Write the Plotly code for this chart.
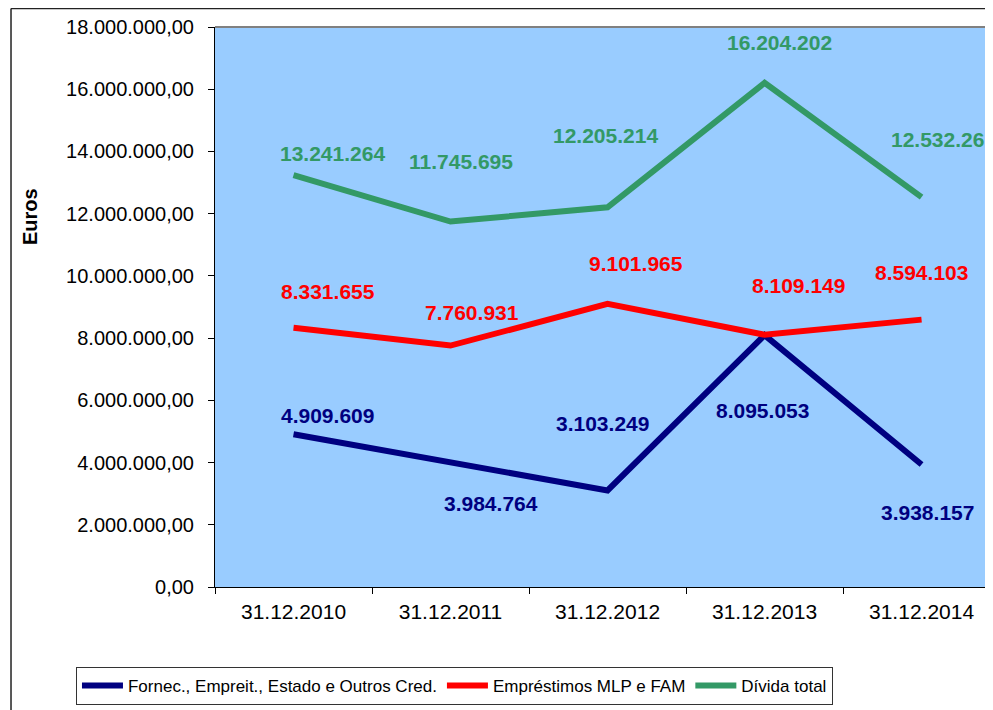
import plotly.graph_objects as go

# ---- data ----
categories = ["31.12.2010", "31.12.2011", "31.12.2012", "31.12.2013", "31.12.2014"]
fornec = [4909609, 3984764, 3103249, 8095053, 3938157]
emprestimos = [8331655, 7760931, 9101965, 8109149, 8594103]
divida = [13241264, 11745695, 12205214, 16204202, 12532261]

series_names = ["Fornec., Empreit., Estado e Outros Cred.", "Empréstimos MLP e FAM", "Dívida total"]
y_ticks = [0, 2000000, 4000000, 6000000, 8000000, 10000000, 12000000, 14000000, 16000000, 18000000]

# ---- styling ----
colors = ["#000080", "#FF0000", "#339966"]
# label offsets (pixels, x then y upward) for each series / point
label_offsets = [
    [(34, 19), (40, -40), (-5, 67), (-2, -75), (6, -48)],
    [(34, 36), (21, 33), (28, 40), (34, 49), (0, 47)],
    [(39, 22), (10, 60), (-2, 72), (15, 40), (22, 58)],
]
FONT = "Arial, Liberation Sans, sans-serif"

fig = go.Figure()
all_series = [fornec, emprestimos, divida]
for name, vals, col in zip(series_names, all_series, colors):
    fig.add_trace(go.Scatter(
        x=categories, y=vals, mode="lines", name=name,
        line=dict(color=col, width=6),
    ))

annotations = []
for vals, col, offs in zip(all_series, colors, label_offsets):
    for cat, v, (dx, dy) in zip(categories, vals, offs):
        annotations.append(dict(
            x=cat, y=v, xref="x", yref="y", showarrow=False,
            text=f"{v:,}".replace(",", "."),
            font=dict(family=FONT, size=21, color=col, weight="bold"),
            xshift=dx, yshift=dy, xanchor="center", yanchor="middle",
        ))

# y-axis title
annotations.append(dict(
    x=-0.2378, y=0.6625, xref="paper", yref="paper", showarrow=False,
    text="<b>Euros</b>", textangle=-90,
    font=dict(family=FONT, size=20, color="black"),
    xanchor="center", yanchor="middle",
))

shapes = [
    # plot-area top border (grey)
    dict(type="line", xref="paper", yref="paper", x0=0, x1=1, y0=1, y1=1,
         line=dict(color="#808080", width=2)),
    # outer chart frame (left and top)
    dict(type="line", xref="paper", yref="paper", x0=-0.2622, x1=-0.2622, y0=1.033, y1=-0.3,
         line=dict(color="#222222", width=1.5)),
    dict(type="line", xref="paper", yref="paper", x0=-0.2622, x1=1.05, y0=1.033, y1=1.033,
         line=dict(color="#222222", width=1.5)),
]

fig.update_layout(
    width=985, height=702,
    margin=dict(l=207, r=0, t=19, b=123, pad=0),
    paper_bgcolor="white",
    plot_bgcolor="#99CCFF",
    separators=",.",
    font=dict(family=FONT, color="black"),
    showlegend=True,
    legend=dict(
        orientation="h", x=-0.1787, xanchor="left", y=-0.1429, yanchor="top",
        bgcolor="white", bordercolor="#333333", borderwidth=1,
        font=dict(family=FONT, size=17, color="black"),
        itemwidth=41, tracegroupgap=0,
    ),
    xaxis=dict(
        type="category", range=[-0.5, 4.455],
        tickson="boundaries", ticks="outside", ticklen=6, tickcolor="black",
        showline=True, linecolor="black", linewidth=1,
        showgrid=False, zeroline=False,
        tickfont=dict(family=FONT, size=21, color="black"),
        ticklabelstandoff=6,
        fixedrange=True,
    ),
    yaxis=dict(
        range=[0, 18000000], tickvals=y_ticks, tickformat=",.2f",
        ticks="outside", ticklen=6, tickcolor="black",
        showline=True, linecolor="black", linewidth=1,
        showgrid=False, zeroline=False,
        tickfont=dict(family=FONT, size=20, color="black"),
        ticklabelstandoff=10,
        fixedrange=True,
    ),
    annotations=annotations,
    shapes=shapes,
)

fig.write_html("out.html")
